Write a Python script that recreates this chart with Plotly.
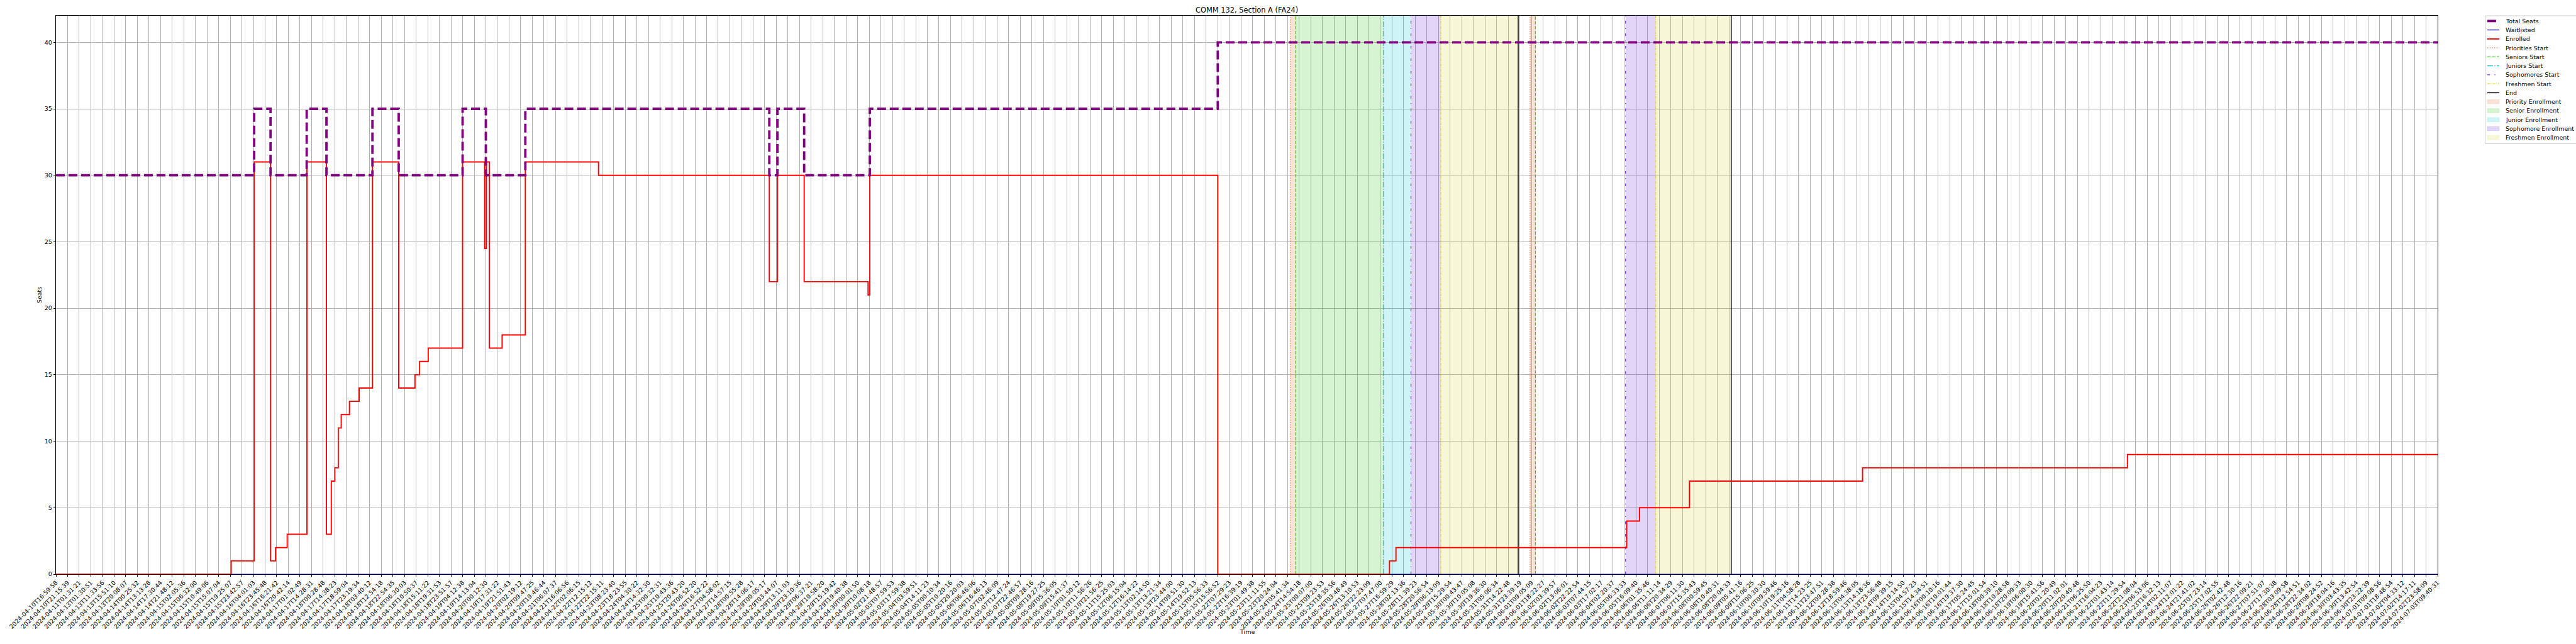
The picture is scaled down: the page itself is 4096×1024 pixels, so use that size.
import plotly.graph_objects as go

# ---------------- data ----------------
tick_labels = [
    "2024-04-10T16:59:58", "2024-04-10T21:15:39", "2024-04-11T01:31:21", "2024-04-13T01:30:51",
    "2024-04-13T11:33:56", "2024-04-13T15:51:10", "2024-04-13T20:08:07", "2024-04-14T00:25:32",
    "2024-04-14T13:13:28", "2024-04-14T17:30:44", "2024-04-14T21:48:12", "2024-04-15T02:05:36",
    "2024-04-15T06:32:00", "2024-04-15T10:49:06", "2024-04-15T15:07:04", "2024-04-15T19:25:07",
    "2024-04-15T23:42:57", "2024-04-16T04:01:03", "2024-04-16T23:45:48", "2024-04-16T16:21:42",
    "2024-04-16T20:42:14", "2024-04-17T01:02:49", "2024-04-17T14:28:31", "2024-04-18T00:28:48",
    "2024-04-17T14:38:23", "2024-04-17T18:59:04", "2024-04-17T23:19:34", "2024-04-18T03:40:12",
    "2024-04-18T12:54:18", "2024-04-18T22:54:35", "2024-04-18T06:30:03", "2024-04-18T10:50:37",
    "2024-04-18T15:11:22", "2024-04-18T19:31:53", "2024-04-18T23:51:57", "2024-04-19T04:12:38",
    "2024-04-19T14:13:04", "2024-04-20T00:12:30", "2024-04-19T17:31:22", "2024-04-19T21:51:43",
    "2024-04-20T02:19:12", "2024-04-20T09:47:25", "2024-04-20T19:46:44", "2024-04-21T06:07:37",
    "2024-04-21T16:06:56", "2024-04-22T02:06:15", "2024-04-22T12:15:12", "2024-04-22T22:15:11",
    "2024-04-23T08:23:40", "2024-04-23T18:23:55", "2024-04-24T04:30:22", "2024-04-24T14:32:30",
    "2024-04-25T00:32:31", "2024-04-25T10:43:36", "2024-04-25T20:43:20", "2024-04-26T06:52:20",
    "2024-04-26T16:52:22", "2024-04-27T04:58:02", "2024-04-27T14:57:15", "2024-04-28T00:55:28",
    "2024-04-28T14:06:17", "2024-04-29T00:05:17", "2024-04-29T03:44:07", "2024-04-29T13:11:03",
    "2024-04-29T23:10:36", "2024-04-29T06:37:21", "2024-04-29T10:58:20", "2024-04-29T15:19:42",
    "2024-04-29T19:40:38", "2024-04-30T00:01:50", "2024-04-30T10:08:18", "2024-05-02T21:48:57",
    "2024-05-03T07:59:53", "2024-05-03T17:59:38", "2024-05-04T03:59:51", "2024-05-04T14:11:23",
    "2024-05-05T00:10:34", "2024-05-05T10:20:16", "2024-05-05T20:20:03", "2024-05-06T06:46:06",
    "2024-05-06T16:46:13", "2024-05-07T02:46:09", "2024-05-07T12:47:24", "2024-05-07T22:46:57",
    "2024-05-08T09:28:16", "2024-05-08T19:27:25", "2024-05-09T05:36:05", "2024-05-09T15:41:37",
    "2024-05-10T01:50:12", "2024-05-10T11:56:26", "2024-05-10T21:56:25", "2024-05-11T15:25:03",
    "2024-05-12T06:15:04", "2024-05-12T16:14:22", "2024-05-13T02:14:50", "2024-05-13T13:21:34",
    "2024-05-13T23:44:00", "2024-05-14T09:51:30", "2024-05-14T19:52:13", "2024-05-15T05:56:33",
    "2024-05-15T15:56:52", "2024-05-22T07:29:23", "2024-05-22T16:39:19", "2024-05-23T01:49:38",
    "2024-05-23T11:11:55", "2024-05-23T20:24:04", "2024-05-24T05:41:34", "2024-05-24T14:54:18",
    "2024-05-25T00:07:00", "2024-05-25T09:23:53", "2024-05-25T18:35:56", "2024-05-26T03:48:49",
    "2024-05-26T13:10:53", "2024-05-26T22:23:09", "2024-05-27T07:47:00", "2024-05-27T16:59:29",
    "2024-05-28T02:13:36", "2024-05-28T11:39:23", "2024-05-28T20:56:54", "2024-05-29T06:13:09",
    "2024-05-29T15:29:54", "2024-05-30T00:43:47", "2024-05-30T10:05:08", "2024-05-30T19:36:30",
    "2024-05-31T05:06:34", "2024-05-31T14:22:48", "2024-05-31T23:39:19", "2024-06-01T09:05:09",
    "2024-06-01T18:22:27", "2024-06-02T03:39:57", "2024-06-02T13:06:01", "2024-06-02T22:22:54",
    "2024-06-03T07:44:15", "2024-06-03T17:02:17", "2024-06-04T02:20:37", "2024-06-05T06:33:33",
    "2024-06-05T16:09:40", "2024-06-06T01:35:46", "2024-06-06T11:11:14", "2024-06-06T20:34:29",
    "2024-06-07T06:11:30", "2024-06-07T15:35:43", "2024-06-08T00:59:45", "2024-06-08T10:40:31",
    "2024-06-08T20:04:33", "2024-06-09T05:41:16", "2024-06-09T15:06:25", "2024-06-10T00:30:30",
    "2024-06-10T09:59:46", "2024-06-10T19:25:16", "2024-06-11T04:58:28", "2024-06-11T14:23:25",
    "2024-06-11T23:47:51", "2024-06-12T09:28:38", "2024-06-12T18:59:46", "2024-06-13T04:38:05",
    "2024-06-13T14:18:36", "2024-06-13T23:56:48", "2024-06-14T09:39:15", "2024-06-14T19:14:50",
    "2024-06-15T04:57:23", "2024-06-15T14:34:51", "2024-06-16T00:10:16", "2024-06-16T10:01:44",
    "2024-06-16T19:37:30", "2024-06-17T05:24:45", "2024-06-17T15:01:54", "2024-06-18T00:39:10",
    "2024-06-18T10:28:58", "2024-06-18T20:09:33", "2024-06-19T06:00:30", "2024-06-19T15:41:56",
    "2024-06-20T01:20:49", "2024-06-20T11:02:01", "2024-06-20T20:40:48", "2024-06-21T06:25:50",
    "2024-06-21T16:04:23", "2024-06-22T01:43:14", "2024-06-22T11:29:54", "2024-06-22T21:08:04",
    "2024-06-23T06:53:06", "2024-06-23T16:32:13", "2024-06-24T02:11:07", "2024-06-24T12:01:22",
    "2024-06-24T21:41:02", "2024-06-25T07:23:14", "2024-06-25T17:02:55", "2024-06-26T02:42:48",
    "2024-06-26T12:30:16", "2024-06-26T22:09:21", "2024-06-27T07:51:07", "2024-06-27T17:30:38",
    "2024-06-28T03:09:58", "2024-06-28T12:54:51", "2024-06-28T22:34:02", "2024-06-29T08:24:52",
    "2024-06-29T18:04:16", "2024-06-30T03:43:35", "2024-06-30T13:42:54", "2024-06-30T23:22:39",
    "2024-07-01T09:08:56", "2024-07-01T18:48:54", "2024-07-02T04:33:12", "2024-07-02T14:17:11",
    "2024-07-02T23:58:09", "2024-07-03T09:40:31",
]

# step series: positions on the (index) time axis where the value changes, and the value
seats_x = [0, 17.06, 18.47, 21.58, 23.28, 27.24, 29.5, 35.0, 37.0, 40.4, 61.4, 62.1, 64.4, 70.05, 100.0, 205]
seats_y = [30, 35, 30, 35, 30, 35, 30, 35, 30, 35, 30, 35, 30, 35, 40, 40]

waitlist_x = [0, 205]
waitlist_y = [0, 0]

enrolled_x = [0, 15.08, 17.06, 18.47, 18.9, 19.9, 21.6, 23.28, 23.7, 24.0, 24.3, 24.55, 25.26, 26.1,
              27.24, 29.5, 30.9, 31.3, 32.04, 35.0, 36.9, 37.05, 37.3, 38.4, 40.4, 46.7, 61.4, 62.1,
              64.4, 69.9, 70.05, 100.0, 114.78, 115.34, 135.2, 136.3, 140.6, 155.5, 178.3, 205]
enrolled_y = [0, 1, 31, 1, 2, 3, 31, 3, 7, 8, 11, 12, 13, 14,
              31, 14, 15, 16, 17, 31, 24.5, 31, 17, 18, 31, 30, 22, 30,
              22, 21, 30, 0, 1, 2, 4, 5, 7, 8, 9, 9]

# phase markers (positions on the index axis)
priorities_start = [106.27, 126.88]
seniors_start = [106.70, 127.34]
juniors_start = [114.25]
sophomores_start = [116.63, 135.1]
freshmen_start = [119.2, 137.7]
end_marks = [125.86, 144.2]

priority_spans = [(106.27, 106.70), (126.88, 127.34)]
senior_spans = [(106.70, 114.25)]
junior_spans = [(114.25, 116.63)]
sophomore_spans = [(116.63, 119.2), (135.1, 137.7)]
freshmen_spans = [(119.2, 125.86), (137.7, 144.2)]

# ---------------- styles ----------------
Y_MAX = 42
FONT = "DejaVu Sans"
C_PRI, C_SEN, C_JUN, C_SOPH, C_FRESH = "#ec6c34", "#38c81c", "#10c8d0", "#6c2cd8", "#d8d838"
F_PRI, F_SEN, F_JUN, F_SOPH, F_FRESH = ("rgba(236,108,52,0.2)", "rgba(56,200,28,0.2)",
                                        "rgba(16,200,208,0.2)", "rgba(108,44,216,0.2)",
                                        "rgba(216,216,56,0.2)")
D_PRI, D_SEN, D_JUN = "1.4px,2.3px", "5.3px,2.3px", "9px,2.3px,1.4px,2.3px"
D_SOPH, D_FRESH = "4.3px,7.1px,1.4px,7.1px", "4.3px,1.4px,1.4px,1.4px"
W_V = 1.2

fig = go.Figure()

def add_spans(name, spans, fillcolor):
    xs, ys = [], []
    for a, b in spans:
        xs += [a, b, b, a, a, None]
        ys += [0, 0, Y_MAX, Y_MAX, 0, None]
    fig.add_trace(go.Scatter(x=xs, y=ys, mode="lines", fill="toself", fillcolor=fillcolor,
                             line=dict(width=0), name=name, hoverinfo="skip", showlegend=False))

add_spans("Priority Enrollment", priority_spans, F_PRI)
add_spans("Senior Enrollment", senior_spans, F_SEN)
add_spans("Junior Enrollment", junior_spans, F_JUN)
add_spans("Sophomore Enrollment", sophomore_spans, F_SOPH)
add_spans("Freshmen Enrollment", freshmen_spans, F_FRESH)

def add_vlines(name, xs_list, color, dash, width):
    xs, ys = [], []
    for a in xs_list:
        xs += [a, a, None]
        ys += [0, Y_MAX, None]
    fig.add_trace(go.Scatter(x=xs, y=ys, mode="lines", name=name,
                             line=dict(color=color, dash=dash, width=width),
                             hoverinfo="skip", showlegend=False))

add_vlines("Priorities Start", priorities_start, C_PRI, D_PRI, W_V)
add_vlines("Seniors Start", seniors_start, C_SEN, D_SEN, W_V)
add_vlines("Juniors Start", juniors_start, C_JUN, D_JUN, W_V)
add_vlines("Sophomores Start", sophomores_start, C_SOPH, D_SOPH, W_V)
add_vlines("Freshmen Start", freshmen_start, C_FRESH, D_FRESH, W_V)
add_vlines("End", end_marks, "black", "solid", 1.4)

fig.add_trace(go.Scatter(x=waitlist_x, y=waitlist_y, mode="lines", name="Waitlisted",
                         line=dict(color="blue", width=1.2, shape="hv"), showlegend=False))
fig.add_trace(go.Scatter(x=enrolled_x, y=enrolled_y, mode="lines", name="Enrolled",
                         line=dict(color="red", width=1.9, shape="hv"), showlegend=False))
fig.add_trace(go.Scatter(x=seats_x, y=seats_y, mode="lines", name="Total Seats",
                         line=dict(color="purple", width=3.8, dash="14px,6px", shape="hv"),
                         showlegend=False))

# ---------------- layout (pixel geometry of the 4096x1024 page) ----------------
W, H = 4096, 1024
L, R, T, B = 89.4, 3876.0, 25.2, 913.3

def px(xp):
    return (xp - L) / (R - L)

def py(yp):
    return (B - yp) / (B - T)

shapes = []
annotations = [
    dict(text="COMM 132, Section A (FA24)", xref="paper", yref="paper", x=0.5, y=py(16.3),
         xanchor="center", yanchor="middle", showarrow=False, font=dict(family=FONT, size=11.4)),
    dict(text="Time", xref="paper", yref="paper", x=0.5, y=py(1005),
         xanchor="center", yanchor="middle", showarrow=False, font=dict(family=FONT, size=9.5)),
    dict(text="Seats", xref="paper", yref="paper", x=px(62.5), y=0.5, textangle=-90,
         xanchor="center", yanchor="middle", showarrow=False, font=dict(family=FONT, size=9.5)),
]

# legend (drawn in the page's pixel frame)
LEG_X0, LEG_Y0, LEG_Y1 = 3951.5, 25.2, 228.5
H_X0, H_X1, TXT_X = 3954.9, 3973.9, 3981.7
ROW0, ROW_H = 33.6, 14.26
shapes.append(dict(type="rect", xref="paper", yref="paper", x0=px(LEG_X0), x1=px(4110),
                   y0=py(LEG_Y1), y1=py(LEG_Y0), line=dict(color="#cccccc", width=1),
                   fillcolor="rgba(255,255,255,0.8)", layer="above"))
legend_items = [
    ("Total Seats", "line", "purple", "solid", 3.8),
    ("Waitlisted", "line", "blue", "solid", 1.2),
    ("Enrolled", "line", "red", "solid", 1.9),
    ("Priorities Start", "line", C_PRI, D_PRI, W_V),
    ("Seniors Start", "line", C_SEN, D_SEN, W_V),
    ("Juniors Start", "line", C_JUN, D_JUN, W_V),
    ("Sophomores Start", "line", C_SOPH, D_SOPH, W_V),
    ("Freshmen Start", "line", C_FRESH, D_FRESH, W_V),
    ("End", "line", "black", "solid", 1.4),
    ("Priority Enrollment", "patch", F_PRI, None, None),
    ("Senior Enrollment", "patch", F_SEN, None, None),
    ("Junior Enrollment", "patch", F_JUN, None, None),
    ("Sophomore Enrollment", "patch", F_SOPH, None, None),
    ("Freshmen Enrollment", "patch", F_FRESH, None, None),
]
for i, (label, kind, color, dash, width) in enumerate(legend_items):
    yc = ROW0 + i * ROW_H
    if kind == "line":
        x1 = H_X0 + 14.0 if label == "Total Seats" else H_X1
        shapes.append(dict(type="line", xref="paper", yref="paper", x0=px(H_X0), x1=px(x1),
                           y0=py(yc), y1=py(yc), line=dict(color=color, width=width, dash=dash),
                           layer="above"))
    else:
        shapes.append(dict(type="rect", xref="paper", yref="paper", x0=px(H_X0), x1=px(H_X1),
                           y0=py(yc + 3.3), y1=py(yc - 3.3), line=dict(color=color, width=0.7),
                           fillcolor=color, layer="above"))
    annotations.append(dict(text=label, xref="paper", yref="paper", x=px(TXT_X), y=py(yc),
                            xanchor="left", yanchor="middle", showarrow=False,
                            font=dict(family=FONT, size=9.5, color="black")))

fig.update_layout(
    width=W, height=H,
    margin=dict(l=L, r=W - R, t=T, b=H - B, pad=0),
    paper_bgcolor="white", plot_bgcolor="white",
    font=dict(family=FONT, size=9.5, color="black"),
    showlegend=False,
    shapes=shapes,
    annotations=annotations,
)

fig.update_xaxes(
    range=[0, len(tick_labels) - 1], tickmode="array",
    tickvals=list(range(len(tick_labels))), ticktext=tick_labels,
    tickangle=-45, tickfont=dict(family=FONT, size=9.5),
    showgrid=True, gridcolor="#b0b0b0", gridwidth=0.75,
    showline=True, linecolor="black", linewidth=0.8, mirror=True,
    ticks="outside", ticklen=3.3, tickwidth=0.6, tickcolor="black",
    zeroline=False, automargin=False,
)
fig.update_yaxes(
    range=[0, Y_MAX], tickmode="linear", tick0=0, dtick=5,
    tickfont=dict(family=FONT, size=9.5),
    showgrid=True, gridcolor="#b0b0b0", gridwidth=0.75,
    showline=True, linecolor="black", linewidth=0.8, mirror=True,
    ticks="outside", ticklen=3.3, tickwidth=0.6, tickcolor="black",
    zeroline=False, automargin=False,
)

fig.write_html("out.html", config={"displayModeBar": False},
               post_script="document.body.style.margin='0';")
